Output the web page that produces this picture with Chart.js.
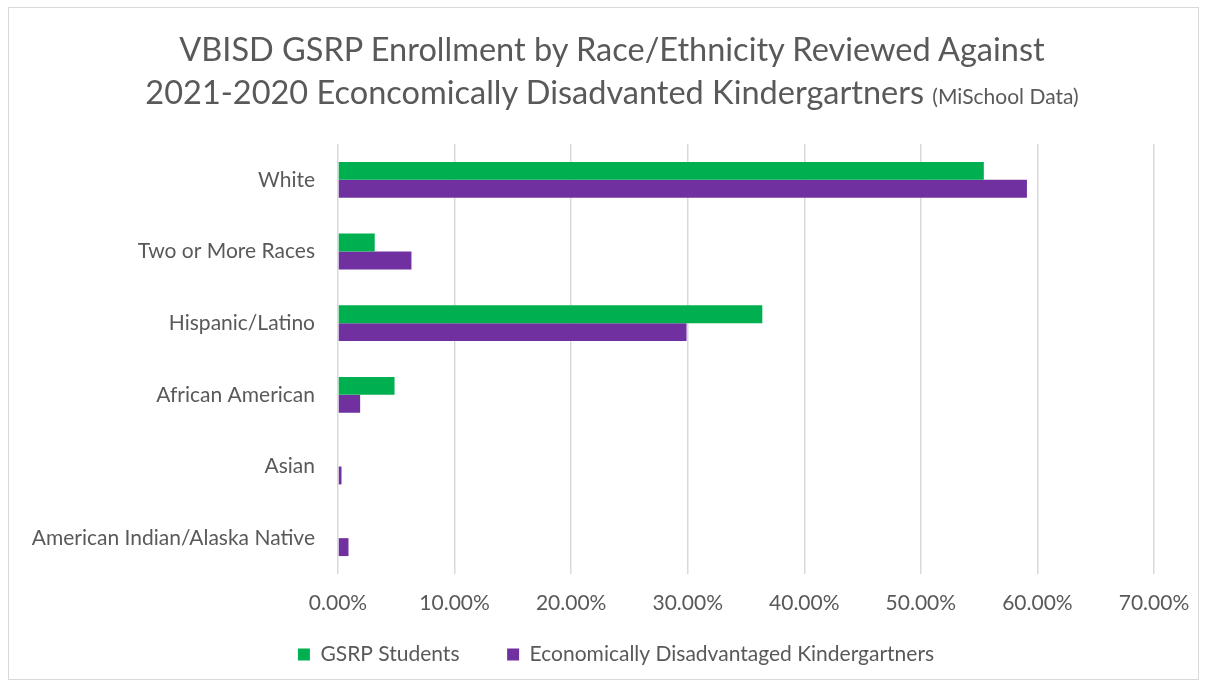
<!DOCTYPE html>
<html>
<head>
<meta charset="utf-8">
<script src="https://cdn.jsdelivr.net/npm/chart.js@4/dist/chart.umd.min.js"></script>
<style>
  body { margin: 0; background: #fff; }
  #wrap { position: relative; width: 1207px; height: 683px; }
  #frame { position: absolute; left: 8px; top: 7px; width: 1189px; height: 671px; border: 1px solid #d9d9d9; }
  #titulo { position: absolute; left: 17px; top: 27px; width: 1190px; text-align: center;
    font-family: Lato, sans-serif; font-size: 32.5px; line-height: 43px; color: #595959; }
  #titulo small { font-size: 21px; }
  canvas { position: absolute; left: 0; top: 0; }
</style>
</head>
<body>
<div id="wrap">
  <div id="frame"></div>
  <canvas id="chart1" width="1207" height="683"></canvas>
  <div id="titulo">VBISD GSRP Enrollment by Race/Ethnicity Reviewed Against<br>2021-2020 Econcomically Disadvanted Kindergartners <small>(MiSchool Data)</small></div>
</div>
<script>
  var categorias = ['White', 'Two or More Races', 'Hispanic/Latino', 'African American', 'Asian', 'American Indian/Alaska Native']
  var gsrp = [55.4, 3.15, 36.4, 4.85, 0, 0]
  var economicamente = [59.1, 6.3, 29.9, 1.9, 0.3, 0.9]
  var ticksX = [0, 10, 20, 30, 40, 50, 60, 70]

  var cinza = '#595959'
  Chart.defaults.font.family = 'Lato, sans-serif'
  Chart.defaults.color = cinza

  const data = {
    labels: categorias,
    datasets: [{
      label: 'GSRP Students',
      data: gsrp,
      backgroundColor: '#00b050',
      borderWidth: 0
    },
    {
      label: 'Economically Disadvantaged Kindergartners',
      data: economicamente,
      backgroundColor: '#7030a0',
      borderWidth: 0
    }]
  };

  // empurra a legenda um pouco para a direita, como no original
  const moveLegenda = {
    id: 'moveLegenda',
    afterLayout: function (chart) {
      chart.legend.left += 39
      chart.legend.right += 39
    }
  };

  const config = {
    type: 'bar',
    data,
    plugins: [moveLegenda],
    options: {
      indexAxis: 'y',
      responsive: false,
      animation: false,
      categoryPercentage: 0.5,
      barPercentage: 1,
      layout: { padding: { top: 144, right: 53, bottom: 8, left: 0 } },
      scales: {
        x: {
          min: 0, max: 70,
          afterBuildTicks: function (scale) {
            scale.ticks = ticksX.map(function (v) { return { value: v } })
          },
          afterFit: function (scale) { scale.height = 60 },
          grid: { color: '#d9d9d9', lineWidth: 1.5, drawTicks: false },
          border: { display: false },
          ticks: {
            padding: 17,
            font: { size: 21 },
            color: cinza,
            callback: function (v) { return Number(v).toFixed(2) + '%' }
          }
        },
        y: {
          afterFit: function (scale) { scale.width = 338 },
          grid: { display: false, drawTicks: false },
          border: { display: false },
          ticks: { padding: 23, font: { size: 21 }, color: cinza }
        }
      },
      plugins: {
        legend: {
          position: 'bottom',
          labels: {
            boxWidth: 12, boxHeight: 12, padding: 10,
            font: { size: 21 }, color: cinza,
            generateLabels: function (chart) {
              var itens = Chart.defaults.plugins.legend.labels.generateLabels(chart)
              // espaco extra entre os itens da legenda
              itens[0].text = itens[0].text + '       '
              return itens
            }
          }
        },
        tooltip: { enabled: false }
      }
    }
  };

  const myChart = new Chart(document.getElementById('chart1'), config);
</script>
</body>
</html>
